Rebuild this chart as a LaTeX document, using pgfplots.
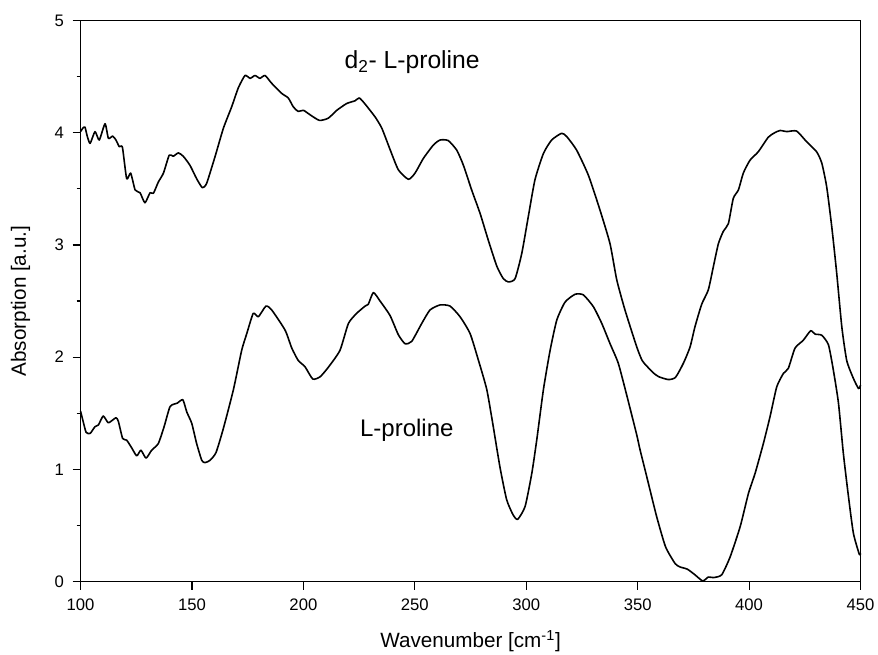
\documentclass[border=0pt]{standalone}
\usepackage{fontspec}
\setmainfont{Liberation Sans}
\usepackage{pgfplots}
\pgfplotsset{compat=1.18}
\begin{document}
\begin{tikzpicture}
\begin{axis}[
  name=ax,
  scale only axis,
  width=585pt, height=420.75pt,
  xmin=100, xmax=450, ymin=0, ymax=5,
  xtick={100,150,...,450},
  ytick={0,1,...,5},
  minor y tick num=1,
  xtick pos=bottom, ytick pos=left,
  tick align=outside,
  major tick length=6pt, minor tick length=3pt,
  axis line style={line width=1pt},
  every tick/.style={black,line width=0.9pt},
  /pgf/number format/assume math mode=true,
  ticklabel style={font=\fontsize{12.5}{14}\selectfont},
  xticklabel style={yshift=-3.5pt},
  yticklabel style={xshift=-3pt},
  xlabel={Wavenumber [cm\textsuperscript{-1}]},
  ylabel={Absorption [a.u.]},
  label style={font=\fontsize{15.5}{17}\selectfont},
  xlabel style={at={(axis description cs:0.5,-0.107)},anchor=center},
  ylabel style={at={(axis description cs:-0.077,0.5)},anchor=center},
  clip=false,
]
\addplot[black, line width=1.2pt, line join=round, smooth, tension=0.35] coordinates {
(100,4.01) (101,4.04) (102,4.05) (103,3.97) (104.3,3.905) (106.5,4.01) (108.4,3.935)
(111,4.08) (112.5,3.95) (114.4,3.97) (115.9,3.935) (117.4,3.875) (118.8,3.87)
(120.7,3.59) (122.5,3.64) (124.5,3.49) (126.7,3.465) (128.9,3.376) (131.2,3.465)
(132.7,3.46) (134.9,3.56) (137.2,3.64) (139.8,3.80) (141.6,3.79) (143.9,3.82)
(146.1,3.79) (149.1,3.71) (152.1,3.59) (154.7,3.51) (156.6,3.55) (160.4,3.79)
(164.1,4.04) (167.8,4.23) (170.8,4.40) (173.8,4.51) (176.1,4.485) (178.3,4.51)
(180.5,4.485) (182.8,4.51) (185.8,4.44) (190.3,4.35) (193.2,4.31) (195.5,4.23)
(197.7,4.19) (200,4.20) (203,4.16) (207.2,4.11) (211.2,4.13) (215,4.20) (219.4,4.26)
(223.2,4.285) (225.1,4.31) (227.7,4.255) (232.2,4.14) (235.2,4.04) (238.9,3.85)
(242.6,3.67) (247.1,3.585) (250.1,3.64) (253.8,3.77) (258.3,3.89) (261.3,3.935)
(265,3.93) (268.8,3.845) (271.8,3.71) (275.5,3.49) (279.3,3.28) (283,3.04)
(286.8,2.81) (289.7,2.70) (292,2.67) (295,2.70) (298,2.925) (300.9,3.25)
(303.9,3.58) (307.7,3.815) (311.4,3.935) (315.9,3.995) (318.2,3.965) (322.6,3.845)
(327.9,3.62) (333.1,3.31) (337.6,3.01) (340.6,2.69) (344.3,2.42) (349.6,2.09)
(352,1.97) (354.1,1.92) (357,1.86) (359.5,1.825) (363.8,1.80) (367,1.82)
(370.5,1.945) (373.5,2.09) (375.7,2.27) (378.7,2.47) (381.7,2.60) (384,2.81)
(386.2,3.01) (388.4,3.12) (390.7,3.19) (392.9,3.415) (395.2,3.49) (397.4,3.64)
(400.4,3.755) (404.1,3.83) (408.6,3.96) (411.5,4.00) (413.9,4.02) (416.9,4.01)
(421.3,4.015) (425.8,3.92) (430.3,3.83) (432.6,3.73) (434.8,3.52) (437.1,3.16)
(439.3,2.75) (441.6,2.27) (443.8,1.97) (446.8,1.81) (449.1,1.72) (450,1.75)
};
\addplot[black, line width=1.2pt, line join=round, smooth, tension=0.35] coordinates {
(100,1.52) (101,1.44) (102.5,1.33) (104.3,1.32) (106.5,1.38) (108,1.395) (110.2,1.475)
(112.5,1.415) (115.9,1.46) (117,1.425) (118.9,1.275) (120.7,1.26) (123,1.19)
(125.2,1.12) (127.1,1.17) (129.4,1.10) (131.9,1.17) (134.9,1.23) (137.5,1.38)
(140.2,1.56) (143.4,1.59) (145.9,1.62) (147.7,1.51) (149.9,1.41) (152.1,1.23)
(154.4,1.08) (155.9,1.06) (158.1,1.08) (160.8,1.15) (164.1,1.365) (168.6,1.71)
(172.3,2.06) (174.6,2.21) (177.5,2.39) (179.8,2.36) (183.2,2.455) (185.8,2.42)
(191.8,2.24) (194.8,2.08) (197.7,1.97) (200.7,1.915) (204.2,1.805) (207.5,1.825)
(211.2,1.91) (216.4,2.06) (220.2,2.30) (223.9,2.39) (227.7,2.455) (229.1,2.47)
(231.4,2.575) (234.4,2.50) (238.9,2.37) (242.6,2.20) (245.6,2.12) (248.6,2.14)
(253.1,2.30) (256.8,2.42) (261.3,2.465) (265.8,2.455) (270.3,2.36) (274.8,2.21)
(278.5,1.975) (282.3,1.71) (285.2,1.38) (288.2,1.02) (291.2,0.73) (294.2,0.59)
(296.2,0.555) (299.5,0.67) (302.5,0.965) (304.7,1.26) (307.7,1.71) (310.7,2.06)
(313.7,2.33) (317.4,2.49) (321.9,2.56) (325.6,2.555) (330.1,2.45) (333.9,2.30)
(337.6,2.12) (341.3,1.945) (345.1,1.66) (349.6,1.305) (351,1.18) (354.5,0.90)
(358.5,0.58) (362.5,0.31) (366.8,0.16) (369,0.13) (372.3,0.11) (375.7,0.06)
(379.2,0.005) (381.7,0.04) (384,0.035) (387.7,0.06) (391.5,0.22) (396,0.49)
(399.7,0.785) (402.7,0.965) (406.4,1.23) (409.4,1.47) (412.4,1.735) (415.4,1.855)
(417.6,1.90) (420.6,2.08) (424.3,2.15) (427.6,2.235) (429.6,2.205) (432.6,2.195)
(435.6,2.11) (437.8,1.885) (440.1,1.59) (442.3,1.14) (444.6,0.755) (446.8,0.43)
(449.5,0.24) (450,0.25)
};
\node[font=\fontsize{18.5}{20}\selectfont] at (axis cs:248.8,4.63) {d\textsubscript{2}- L-proline};
\node[font=\fontsize{18}{20}\selectfont] at (axis cs:246.4,1.35) {L-proline};
\end{axis}
\pgfresetboundingbox
\path[use as bounding box] ([xshift=-60.4pt,yshift=-55.1pt]ax.south west) rectangle ([xshift=13.1pt,yshift=15.4pt]ax.north east);
\end{tikzpicture}
\end{document}
